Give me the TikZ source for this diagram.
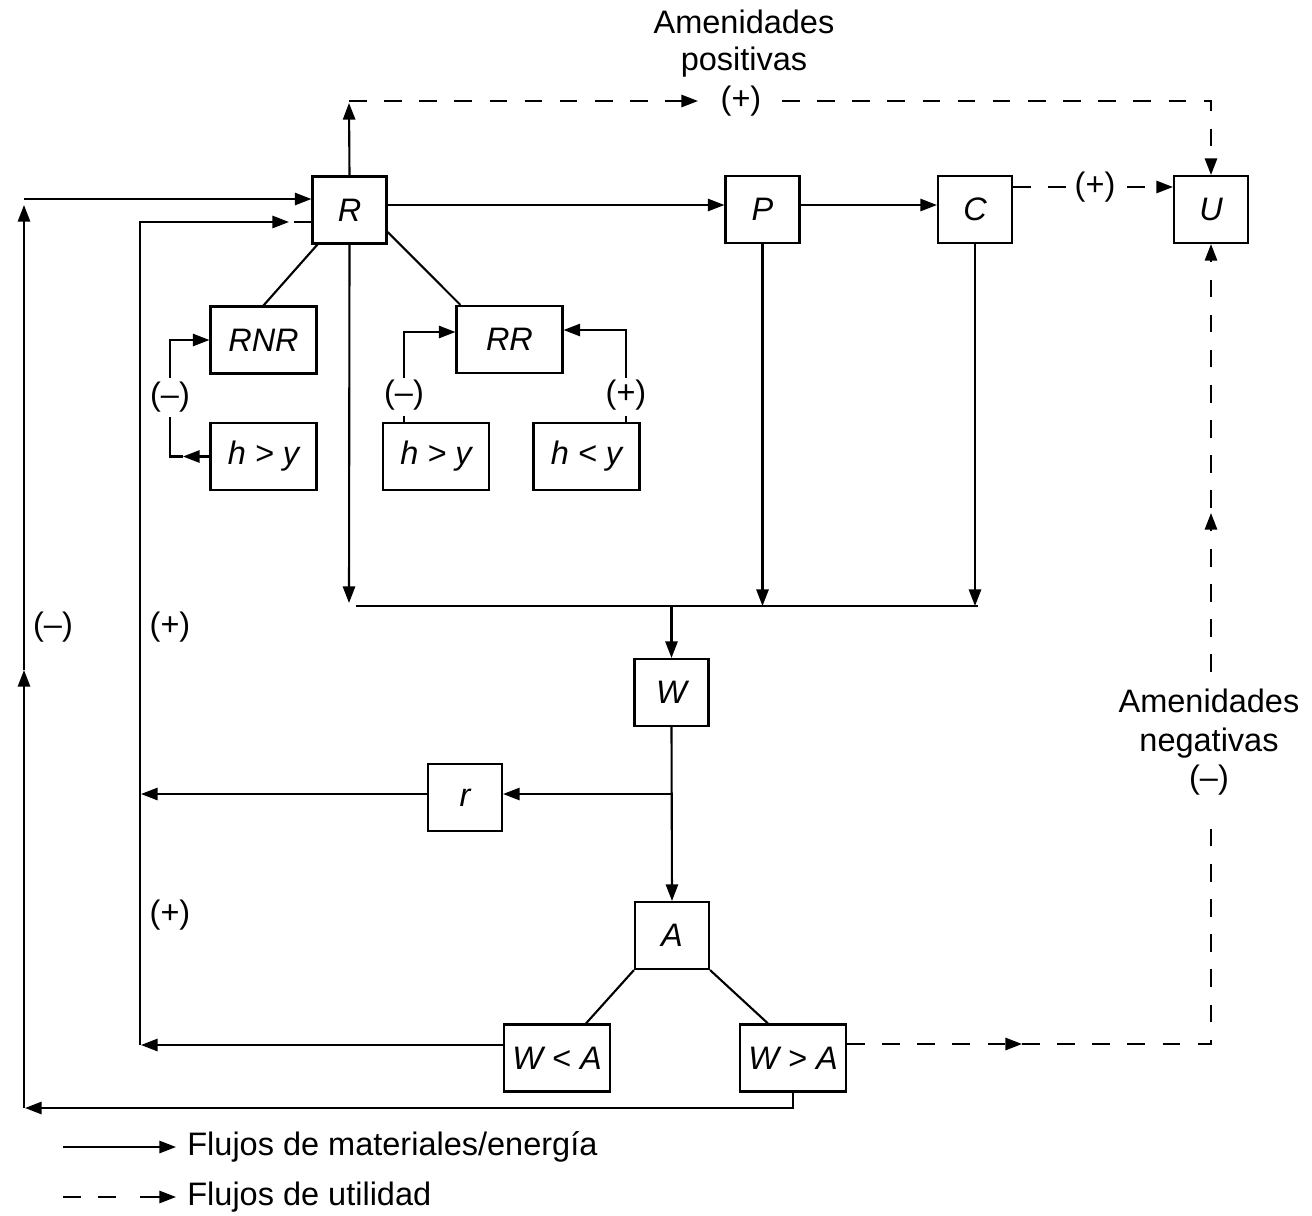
\documentclass[tikz,border=0pt]{standalone}
\usepackage{fontspec}
\setmainfont{Liberation Sans}
\usetikzlibrary{arrows.meta,calc}
\begin{document}
\begin{tikzpicture}[x=0.02cm,y=-0.02cm,
  txt/.style={font=\fontsize{18.5}{22}\selectfont, inner sep=0pt},
  blk/.style={draw, line width=1.2pt, inner sep=0pt, font=\fontsize{18.5}{22}\selectfont\itshape},
  sq/.style={blk, minimum width=1.48cm, minimum height=1.34cm},
  wide/.style={blk, minimum width=2.12cm, minimum height=1.34cm},
  flow/.style={line width=1.2pt},
  util/.style={line width=1.2pt, dash pattern=on 10pt off 10pt},
  tip/.style={-{Triangle[length=9.5pt,width=7pt]}},
]
\useasboundingbox (0,0) rectangle (1312,1215);

% blocks
\node[sq] (R) at (349.5,210) {R};
\node[sq] (P) at (762.5,209.5) {P};
\node[sq] (C) at (975,209.5) {C};
\node[sq] (U) at (1211,209.5) {U};
\node[wide] (RNR) at (263.5,340) {RNR};
\node[wide] (RR) at (509.5,339.5) {RR};
\node[wide] (hA) at (263.5,456.5) {h > y};
\node[wide] (hB) at (436,456.5) {h > y};
\node[wide] (hC) at (586.5,456.5) {h < y};
\node[sq] (W) at (671.5,692.5) {W};
\node[sq] (r) at (465,797.5) {r};
\node[sq] (A) at (672,935.5) {A};
\node[wide] (WlA) at (557,1058) {W < A};
\node[wide] (WgA) at (793,1058) {W > A};

% main material chain
\draw[flow,tip] (R.east |- 0,205) -- (P.west |- 0,205);
\draw[flow,tip] (P.east |- 0,205) -- (C.west |- 0,205);
\draw[util] (C.east |- 0,187) -- (1068,187);
\node[txt] (pcu) at (1095,187) {(+)};
\draw[util,tip] (1127,187) -- (U.west |- 0,187);

% positive amenities
\draw[flow,tip] (R.north) -- (349,103);
\draw[util,tip] (349,101) -- (698,101);
\node[txt] (ppos) at (741,101) {(+)};
\draw[util,tip] (782,101) -- (U.north |- 0,101) -- (U.north);
\node[txt,anchor=base] (am1) at (744,33) {Amenidades};
\node[txt,anchor=base] (am2) at (744,70) {positivas};

% resource split
\draw[flow] ($(R.south west)+(6,0)$) -- (RNR.north);
\draw[flow] ($(R.east)+(0,22)$) -- ($(RR.north west)+(5,0)$);

% RNR feedback
\draw[flow,tip] (hA.west) -- (183,456.5);
\draw[flow] (183,456.5) -- (170,456.5) -- (170,417);
\node[txt] (lrnr) at (170,397) {(\textendash)};
\draw[flow,tip] (170,378) -- (170,340) -- (RNR.west);

% RR feedbacks
\draw[flow] (hB.north -| 404,0) -- (404,416);
\node[txt] (lrr1) at (404,395) {(\textendash)};
\draw[flow,tip] (404,378) -- (404,332) -- (RR.west |- 0,332);
\draw[flow] (hC.north -| 626,0) -- (626,416);
\node[txt] (lrr2) at (626,395) {(+)};
\draw[flow,tip] (626,378) -- (626,330) -- (RR.east |- 0,330);

% waste collection
\draw[flow,tip] (R.south) -- (349,603);
\draw[flow,tip] (P.south) -- (P.south |- 0,606);
\draw[flow,tip] (C.south) -- (C.south |- 0,606);
\draw[flow] (356,606) -- (978,606);
\draw[flow,tip] (W.north |- 0,606) -- (W.north);
\draw[flow,tip] (W.south) -- (A.north);
\draw[flow,tip] (W.south |- 0,794) -- (r.east |- 0,794);

% recycling and assimilation
\draw[flow,tip] (r.west |- 0,794) -- (141,794);
\draw[flow] (A.south west) -- ($(WlA.north west)+(83,0)$);
\draw[flow] (A.south east) -- ($(WgA.north west)+(29,0)$);
\draw[flow,tip] (WlA.west |- 0,1045) -- (141,1045);
\draw[flow,tip] (140,1045) -- (140,222) -- (289,222);
\draw[flow] (294,222) -- (R.west |- 0,222);
\node[txt] (lp1) at (170,627) {(+)};
\node[txt] (lp2) at (170,915) {(+)};

% excess waste back to resources
\draw[flow,tip] (WgA.south) -- (WgA.south |- 0,1108) -- (25,1108);
\draw[flow,tip] (24,1108) -- (24,670);
\draw[flow,tip] (24,670) -- (24,205);
\draw[flow,tip] (24,199) -- (R.west |- 0,199);
\node[txt] (lm1) at (53,627) {(\textendash)};

% negative amenities
\draw[util,tip] (WgA.east |- 0,1044) -- (1022,1044);
\draw[util] (1022,1044) -- (U.south |- 0,1044) -- (U.south |- 0,822);
\node[txt,anchor=base] (an1) at (1209,712) {Amenidades};
\node[txt,anchor=base] (an2) at (1209,751) {negativas};
\node[txt] (an3) at (1209,780) {(\textendash)};
\draw[util,tip] (U.south |- 0,672) -- (U.south |- 0,513);
\draw[util,tip] (U.south |- 0,508) -- (U.south);

% legend
\draw[flow,tip] (63,1147) -- (176,1147);
\node[txt,anchor=base west] (lg1) at (187,1155) {Flujos de materiales/energía};
\draw[util] (63,1197) -- (118,1197);
\draw[flow,tip] (140,1197) -- (176,1197);
\node[txt,anchor=base west] (lg2) at (187,1205) {Flujos de utilidad};
\end{tikzpicture}
\end{document}
